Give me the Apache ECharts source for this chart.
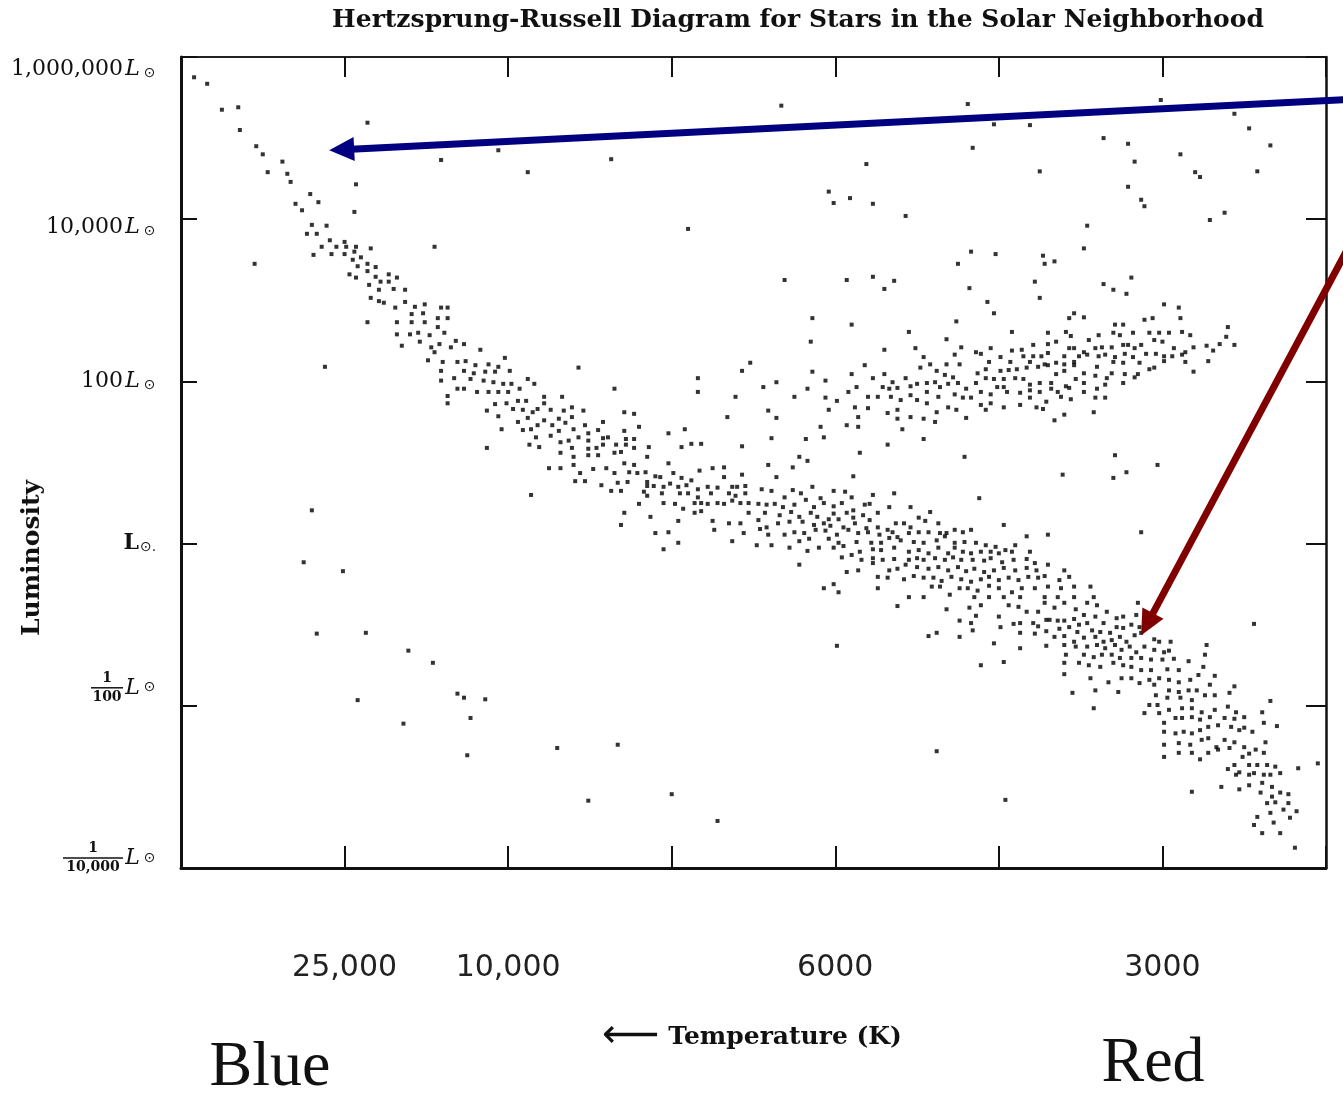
<!DOCTYPE html>
<html><head><meta charset="utf-8">
<script src="https://cdn.jsdelivr.net/npm/echarts@6/dist/echarts.min.js"></script>
<style>html,body{margin:0;padding:0;background:#fff}#c{width:1343px;height:1094px}</style>
</head><body><div id="c"></div>
<script>
// x: position on the temperature scale (tick units), y: log10(L / Lsun)
const tempTickValues = [1, 2, 4, 6];
const tempTickLabels = ['25,000', '10,000', '6000', '3000'];
const lumTickValues = [6, 4, 2, 0, -2, -4];
const lumTickLabels = ['1,000,000', '10,000', '100', '1', '1/100', '1/10,000'];

const upperMainSequence = [[0.08,5.75],[0.16,5.67],[0.25,5.35],[0.35,5.38],[0.36,5.10],[0.46,4.90],[0.50,4.80],[0.62,4.71],[0.53,4.58],[0.65,4.56],[0.67,4.46],[0.79,4.31],[0.84,4.21],[0.70,4.19],[0.74,4.11],[0.80,3.93],[0.89,3.92],[0.77,3.82],[0.83,3.82],[0.91,3.74],[0.86,3.66],[0.95,3.66],[1.00,3.72],[1.01,3.66],[1.07,3.66],[0.81,3.56],[0.92,3.57],[1.00,3.57],[1.06,3.60],[1.10,3.53],[1.16,3.64],[1.05,3.50],[1.08,3.42],[1.14,3.45],[1.19,3.41],[1.03,3.32],[1.07,3.28],[1.14,3.36],[1.19,3.29],[1.22,3.23],[1.27,3.32],[1.32,3.28],[1.27,3.23],[1.15,3.19],[1.21,3.13],[1.30,3.14],[1.37,3.13],[1.16,3.03],[1.21,2.99],[1.24,2.97],[1.31,2.91],[1.37,2.98],[1.43,2.92],[1.49,2.95],[1.41,2.83],[1.48,2.84],[1.59,2.91],[1.63,2.91],[1.63,2.78],[1.57,2.78],[1.49,2.73],[1.41,2.73],[1.32,2.73],[1.14,2.73],[1.57,2.67],[1.40,2.58],[1.45,2.60],[1.52,2.57],[1.61,2.60],[1.35,2.44],[1.46,2.49],[1.53,2.42],[1.58,2.46],[1.65,2.42],[1.68,2.50],[1.73,2.46],[1.55,2.36],[1.51,2.26],[1.60,2.24],[1.69,2.24],[1.74,2.25],[1.80,2.20],[1.59,2.13],[1.73,2.13],[1.79,2.10],[1.59,2.01],[1.67,2.04],[1.77,2.03],[1.69,1.91],[1.73,1.91],[1.81,1.87],[1.63,1.82],[1.63,1.73],[1.32,2.58]];

const middleMainSequence = [[1.83,2.39],[1.98,2.29],[1.88,2.21],[1.94,2.18],[1.86,2.12],[1.92,2.12],[2.01,2.13],[1.85,2.01],[1.91,1.99],[1.97,1.97],[2.02,1.97],[2.12,2.03],[2.16,1.97],[1.88,1.87],[1.94,1.87],[2.00,1.87],[2.07,1.91],[1.92,1.72],[1.99,1.73],[2.06,1.76],[2.11,1.76],[2.22,1.81],[2.22,1.73],[2.33,1.81],[1.87,1.64],[1.94,1.57],[2.03,1.66],[2.09,1.65],[2.15,1.62],[2.18,1.66],[2.26,1.65],[2.34,1.64],[2.39,1.68],[2.46,1.64],[2.43,2.17],[2.65,1.91],[2.06,1.50],[2.12,1.55],[2.18,1.46],[2.22,1.52],[2.27,1.46],[2.31,1.54],[2.35,1.49],[2.39,1.56],[1.96,1.41],[2.09,1.40],[2.14,1.41],[2.17,1.31],[2.26,1.33],[2.31,1.39],[2.40,1.41],[2.47,1.46],[1.87,1.18],[2.13,1.22],[2.19,1.19],[2.32,1.25],[2.37,1.27],[2.43,1.31],[2.49,1.36],[2.49,1.27],[2.55,1.40],[2.58,1.50],[2.58,1.30],[2.61,1.31],[2.71,1.62],[2.77,1.60],[2.80,1.44],[2.71,1.39],[2.72,1.29],[2.77,1.29],[2.39,1.18],[2.49,1.17],[2.54,1.18],[2.58,1.22],[2.66,1.22],[2.72,1.22],[2.77,1.18],[2.86,1.19],[2.32,1.12],[2.40,1.07],[2.49,1.09],[2.55,1.09],[2.65,1.12],[2.69,1.13],[2.85,1.07],[2.98,1.36],[3.08,1.41],[3.06,1.19],[3.12,1.23],[3.18,1.23],[3.16,2.04],[3.16,1.87],[3.39,1.81],[3.48,2.23],[3.43,2.13],[3.56,1.93],[3.64,1.99],[3.59,1.64],[3.64,1.55],[3.34,1.56],[3.61,1.30],[3.43,1.20],[2.40,0.97],[2.32,0.93],[2.25,0.93],[2.44,0.87],[2.52,0.92],[2.60,0.93],[2.65,0.87],[2.71,0.99],[2.74,0.88],[2.79,0.87],[2.77,0.97],[2.84,0.88],[2.90,0.83],[2.41,0.77],[2.47,0.77],[2.57,0.72],[2.67,0.75],[2.73,0.76],[2.85,0.76],[2.93,0.82],[2.98,0.99],[3.01,0.87],[3.06,0.81],[3.12,0.78],[3.17,0.90],[3.25,0.93],[3.32,0.94],[3.32,0.82],[3.43,0.85],[3.59,0.97],[3.64,0.82],[2.85,0.71],[2.89,0.71],[2.95,0.70],[2.99,0.74],[3.04,0.70],[3.09,0.72],[3.16,0.67],[3.22,0.70],[3.28,0.69],[3.37,0.70],[3.40,0.70],[3.45,0.71],[3.55,0.67],[3.61,0.65],[2.63,0.65],[2.69,0.65],[2.83,0.64],[2.94,0.62],[3.05,0.62],[3.10,0.62],[3.16,0.57],[3.24,0.62],[3.35,0.62],[3.39,0.59],[3.45,0.62],[2.14,0.60],[2.85,0.59],[2.95,0.50],[3.02,0.49],[3.07,0.43],[3.14,0.50],[3.18,0.50],[3.22,0.49],[3.28,0.50],[3.32,0.49],[3.37,0.53],[3.42,0.50],[3.47,0.50],[3.53,0.49],[3.58,0.48],[3.63,0.49],[3.66,0.35],[2.80,0.49],[2.71,0.38],[2.69,0.23],[2.87,0.33],[2.90,0.13],[2.98,0.14],[3.04,0.28],[3.04,0.01],[2.95,-0.07],[3.14,0.38],[3.18,0.40],[3.25,0.28],[3.26,0.17],[3.35,0.25],[3.37,0.03],[3.42,0.25],[3.44,0.13],[3.47,0.38],[3.53,0.29],[3.54,0.18],[3.58,0.20],[3.59,0.11],[3.57,0.38],[3.52,-0.02],[3.61,-0.02],[3.65,0.25]];

const centralMainSequence = [[3.69,0.57],[3.74,0.66],[3.79,0.62],[3.86,0.70],[3.91,0.56],[3.99,0.65],[4.06,0.64],[4.10,0.57],[4.23,0.60],[4.36,0.62],[4.46,0.45],[4.58,0.39],[3.68,0.45],[3.75,0.48],[3.82,0.54],[3.87,0.45],[3.93,0.50],[3.99,0.46],[4.04,0.50],[4.07,0.38],[4.11,0.41],[4.18,0.48],[4.21,0.49],[4.26,0.38],[4.33,0.45],[3.73,0.39],[3.78,0.33],[3.85,0.38],[3.89,0.33],[3.96,0.30],[3.99,0.37],[4.02,0.30],[4.11,0.32],[4.17,0.35],[4.21,0.29],[3.72,0.27],[3.80,0.27],[3.87,0.23],[3.93,0.25],[3.97,0.22],[4.05,0.20],[4.12,0.25],[4.19,0.19],[4.26,0.20],[4.32,0.17],[4.37,0.25],[4.42,0.25],[4.46,0.20],[4.51,0.32],[4.55,0.28],[4.63,0.25],[3.69,0.11],[3.75,0.14],[3.81,0.13],[3.88,0.17],[3.94,0.16],[4.01,0.11],[4.08,0.17],[4.14,0.13],[4.20,0.14],[4.27,0.11],[4.35,0.14],[4.38,0.08],[4.45,0.13],[4.51,0.14],[4.57,0.14],[4.64,0.13],[4.68,0.13],[4.73,0.17],[4.78,0.14],[4.83,0.17],[3.78,0.03],[3.84,0.06],[3.96,0.06],[4.02,0.01],[4.13,0.02],[4.22,0.01],[4.28,0.01],[4.33,0.07],[4.40,0.04],[4.48,0.02],[4.54,0.01],[4.62,0.04],[4.67,0.09],[4.73,0.01],[4.79,0.02],[4.86,0.01],[4.92,-0.02],[4.98,-0.04],[5.04,-0.08],[5.10,-0.02],[3.72,-0.05],[3.83,-0.09],[3.90,-0.05],[3.99,-0.05],[4.05,-0.03],[4.15,-0.10],[4.23,-0.07],[4.28,-0.08],[4.36,-0.05],[4.45,-0.10],[4.51,-0.08],[4.57,-0.12],[4.63,-0.05],[4.69,-0.12],[4.73,-0.05],[4.78,-0.10],[4.83,-0.12],[4.89,-0.10],[4.95,-0.10],[5.00,-0.12],[5.08,-0.10],[5.19,-0.10],[4.04,-0.17],[4.10,-0.14],[4.16,-0.20],[4.23,-0.18],[4.29,-0.20],[4.36,-0.19],[4.45,-0.20],[4.50,-0.18],[4.54,-0.20],[4.61,-0.18],[4.67,-0.20],[4.72,-0.17],[4.77,-0.20],[4.84,-0.20],[4.91,-0.21],[4.95,-0.18],[5.02,-0.23],[5.09,-0.20],[5.17,-0.19],[5.22,-0.24],[3.78,-0.26],[4.07,-0.35],[4.14,-0.33],[4.23,-0.24],[4.33,-0.33],[4.38,-0.31],[4.43,-0.26],[4.50,-0.29],[4.57,-0.31],[4.63,-0.29],[4.69,-0.33],[4.75,-0.29],[4.80,-0.34],[4.85,-0.31],[4.91,-0.35],[4.97,-0.33],[5.03,-0.30],[5.10,-0.33],[5.17,-0.30],[5.23,-0.33],[5.30,-0.26],[5.40,-0.33],[4.26,-0.41],[4.32,-0.42],[4.42,-0.44],[4.48,-0.40],[4.54,-0.42],[4.60,-0.42],[4.65,-0.46],[4.71,-0.41],[4.77,-0.44],[4.83,-0.47],[4.89,-0.44],[4.94,-0.41],[5.00,-0.45],[5.06,-0.42],[5.12,-0.45],[5.18,-0.41],[5.24,-0.42],[5.28,-0.40],[5.37,-0.45],[5.43,-0.41],[3.93,-0.55],[3.99,-0.50],[4.02,-0.60],[4.26,-0.55],[4.59,-0.53],[4.64,-0.53],[4.76,-0.55],[4.81,-0.55],[4.87,-0.58],[4.94,-0.52],[5.00,-0.55],[5.08,-0.60],[5.14,-0.55],[5.22,-0.55],[5.30,-0.53],[5.38,-0.55],[5.46,-0.53],[4.45,-0.66],[4.54,-0.66],[4.70,-0.63],[4.85,-0.66],[4.94,-0.66],[5.03,-0.66],[5.13,-0.66],[5.28,-0.66],[5.36,-0.66],[5.46,-0.66],[5.56,-0.53],[5.58,-0.66],[5.87,0.14],[4.88,0.56],[5.03,0.23],[5.30,0.11],[5.17,0.09]];

const lowerMainSequence = [[4.38,-0.77],[4.68,-0.81],[4.82,-0.79],[4.86,-0.89],[4.89,-0.76],[5.00,-0.90],[5.06,-0.76],[5.12,-0.78],[5.17,-0.84],[5.24,-0.84],[5.28,-0.73],[5.34,-0.79],[5.40,-0.73],[5.47,-0.81],[4.76,-0.95],[4.83,-0.98],[4.84,-1.07],[5.01,-1.03],[5.09,-0.99],[5.13,-0.98],[5.21,-0.98],[5.24,-1.02],[5.29,-0.94],[5.31,-0.94],[5.36,-0.95],[5.40,-0.95],[5.46,-0.93],[5.49,-1.00],[4.57,-1.14],[4.62,-1.10],[4.76,-1.15],[4.97,-1.23],[5.13,-1.10],[5.22,-1.11],[5.29,-1.08],[5.34,-1.15],[5.37,-1.05],[5.40,-1.14],[5.43,-1.03],[5.48,-1.09],[5.13,-1.29],[5.29,-1.26],[5.40,-1.25],[5.46,-1.21],[5.47,-1.27],[4.89,-1.50],[5.03,-1.46],[5.40,-1.47],[5.49,-1.47],[5.41,-1.37],[5.40,-1.61],[5.45,-1.84],[5.54,-0.73],[5.60,-0.76],[5.66,-0.84],[5.52,-0.88],[5.59,-0.90],[5.64,-0.98],[5.72,-0.92],[5.76,-0.90],[5.84,-0.88],[5.85,-0.73],[5.54,-0.98],[5.57,-1.07],[5.62,-1.09],[5.68,-1.10],[5.72,-1.03],[5.76,-1.04],[5.81,-1.00],[5.86,-1.03],[5.52,-1.16],[5.59,-1.15],[5.64,-1.21],[5.69,-1.19],[5.74,-1.15],[5.78,-1.21],[5.83,-1.13],[5.87,-1.10],[5.95,-1.18],[5.98,-1.21],[6.05,-1.21],[5.54,-1.27],[5.60,-1.25],[5.65,-1.29],[5.71,-1.25],[5.75,-1.31],[5.80,-1.27],[5.84,-1.34],[5.89,-1.27],[5.95,-1.31],[6.01,-1.34],[6.04,-1.32],[6.27,-1.25],[5.52,-1.37],[5.58,-1.40],[5.63,-1.37],[5.69,-1.37],[5.74,-1.41],[5.81,-1.41],[5.87,-1.41],[5.93,-1.43],[6.00,-1.43],[6.07,-1.42],[6.16,-1.45],[6.26,-1.37],[5.55,-1.50],[5.62,-1.52],[5.70,-1.47],[5.76,-1.50],[5.81,-1.52],[5.87,-1.56],[5.93,-1.56],[6.03,-1.55],[6.10,-1.56],[6.25,-1.52],[5.56,-1.66],[5.67,-1.71],[5.75,-1.66],[5.81,-1.66],[5.86,-1.72],[5.92,-1.68],[5.98,-1.66],[6.04,-1.68],[6.10,-1.71],[6.17,-1.68],[6.22,-1.62],[6.32,-1.63],[5.59,-1.81],[5.73,-1.83],[5.95,-1.74],[6.04,-1.81],[6.10,-1.83],[6.16,-1.81],[6.21,-1.81],[6.29,-1.74],[6.44,-1.76],[5.96,-1.87],[6.03,-1.90],[6.11,-1.90],[6.18,-1.93],[6.26,-1.87],[6.32,-1.87],[6.41,-1.84],[5.58,-2.03],[5.89,-2.09],[5.92,-1.99],[5.97,-1.99],[6.04,-2.05],[6.12,-2.03],[6.18,-2.03],[6.24,-2.08],[6.32,-2.05],[6.40,-2.01],[6.45,-2.08],[5.98,-2.09],[6.01,-2.21],[6.08,-2.15],[6.12,-2.15],[6.18,-2.14],[6.23,-2.17],[6.29,-2.14],[6.38,-2.15],[6.44,-2.16],[6.50,-2.14],[6.61,-2.08],[6.66,-1.94],[6.01,-2.32],[6.08,-2.34],[6.13,-2.32],[6.18,-2.34],[6.23,-2.30],[6.28,-2.26],[6.34,-2.24],[6.42,-2.26],[6.47,-2.30],[6.50,-2.27],[6.55,-2.32],[6.62,-2.21],[6.70,-2.25],[6.01,-2.48],[6.10,-2.46],[6.17,-2.48],[6.24,-2.42],[6.28,-2.40],[6.33,-2.51],[6.38,-2.42],[6.44,-2.45],[6.50,-2.51],[6.57,-2.54],[6.63,-2.45],[6.01,-2.63],[6.10,-2.58],[6.18,-2.58],[6.23,-2.66],[6.28,-2.58],[6.34,-2.54],[6.41,-2.52],[6.49,-2.63],[6.53,-2.59],[6.62,-2.58],[6.44,-2.73],[6.47,-2.82],[6.53,-2.73],[6.58,-2.73],[6.64,-2.73],[6.69,-2.75],[6.40,-2.78],[6.45,-2.85],[6.53,-2.85],[6.56,-2.83],[6.62,-2.85],[6.66,-2.85],[6.72,-2.83],[6.83,-2.77],[6.95,-2.71],[6.18,-3.06],[6.36,-3.00],[6.47,-3.03],[6.53,-2.98],[6.61,-2.95],[6.67,-3.00],[6.60,-3.07],[6.67,-3.12],[6.72,-3.07],[6.77,-3.09],[6.64,-3.20],[6.69,-3.19],[6.74,-3.28],[6.77,-3.20],[6.82,-3.30],[6.66,-3.32],[6.78,-3.38],[6.58,-3.37],[6.56,-3.47],[6.68,-3.44],[6.61,-3.57],[6.72,-3.57],[6.81,-3.75],[6.56,-0.99]];

const giantBranch = [[4.45,2.61],[3.85,2.49],[4.68,2.52],[5.08,2.61],[5.30,2.60],[5.41,2.61],[5.44,2.56],[4.30,2.39],[4.49,2.41],[4.77,2.42],[4.95,2.41],[4.86,2.36],[4.89,2.34],[5.08,2.38],[5.14,2.39],[5.21,2.45],[5.30,2.46],[5.35,2.49],[5.43,2.41],[5.46,2.41],[4.54,2.30],[4.73,2.33],[5.01,2.30],[5.15,2.31],[5.21,2.31],[5.26,2.31],[5.30,2.35],[5.40,2.31],[5.49,2.31],[4.18,2.20],[4.58,2.21],[4.68,2.21],[4.76,2.21],[4.94,2.24],[5.07,2.24],[5.19,2.24],[5.28,2.21],[5.35,2.23],[5.40,2.21],[5.46,2.24],[3.86,2.12],[4.10,2.09],[4.30,2.09],[4.52,2.17],[4.62,2.13],[4.67,2.08],[4.72,2.05],[4.87,2.10],[4.92,2.15],[5.01,2.13],[5.06,2.14],[5.11,2.15],[5.17,2.17],[5.24,2.18],[5.30,2.20],[5.35,2.09],[5.40,2.13],[5.46,2.20],[3.94,2.01],[4.23,2.04],[4.35,1.99],[4.43,2.04],[4.50,1.97],[4.56,1.98],[4.61,1.99],[4.69,1.97],[4.75,1.98],[4.86,1.98],[4.92,2.04],[4.97,2.03],[5.03,2.03],[5.10,2.04],[5.15,2.03],[5.19,1.96],[5.25,1.98],[5.32,1.98],[5.41,1.94],[5.47,2.03],[3.83,1.91],[4.13,1.93],[4.29,1.93],[4.33,1.91],[4.38,1.92],[4.46,1.94],[4.56,1.87],[4.64,1.93],[4.73,1.84],[4.80,1.91],[4.89,1.87],[4.95,1.84],[4.99,1.93],[5.03,1.93],[5.05,1.87],[5.13,1.86],[5.19,1.89],[5.25,1.87],[5.32,1.91],[5.36,1.87],[5.43,1.92],[3.75,1.81],[3.94,1.80],[4.01,1.76],[4.08,1.87],[4.20,1.81],[4.26,1.81],[4.34,1.81],[4.40,1.77],[4.46,1.83],[4.50,1.77],[4.56,1.73],[4.63,1.81],[4.69,1.68],[4.74,1.65],[4.78,1.80],[4.83,1.80],[4.89,1.71],[4.92,1.65],[4.95,1.73],[5.03,1.68],[5.13,1.71],[5.19,1.80],[5.23,1.68],[5.27,1.66],[5.29,1.75],[5.38,1.81],[5.44,1.78],[3.96,1.65],[4.12,1.68],[4.20,1.67],[4.32,1.61],[4.38,1.65],[4.46,1.56],[4.38,1.54],[4.54,1.54],[4.61,1.50],[4.62,1.62],[4.80,1.55],[3.91,1.44],[4.07,1.46],[4.14,1.44],[4.14,1.56],[4.41,1.41],[5.34,1.52],[5.40,1.59],[3.93,1.31],[3.82,1.29],[4.54,1.29],[4.32,1.22],[4.15,1.12],[3.78,1.07],[3.83,1.02],[3.74,0.94],[4.79,1.07],[4.11,0.83],[5.39,0.85],[5.55,2.51],[5.61,2.57],[5.70,2.60],[5.74,2.57],[5.82,2.60],[5.92,2.60],[5.98,2.60],[6.04,2.60],[6.12,2.61],[6.17,2.57],[6.39,2.55],[5.52,2.36],[5.59,2.41],[5.63,2.42],[5.69,2.42],[5.76,2.45],[5.79,2.45],[5.83,2.41],[5.87,2.45],[5.95,2.51],[6.00,2.49],[6.07,2.41],[6.14,2.36],[6.19,2.42],[6.27,2.44],[6.31,2.38],[6.35,2.46],[6.44,2.45],[5.54,2.33],[5.61,2.31],[5.65,2.33],[5.71,2.30],[5.77,2.34],[5.82,2.30],[5.90,2.34],[5.96,2.34],[6.01,2.31],[6.06,2.31],[6.12,2.33],[5.60,2.18],[5.70,2.24],[5.76,2.23],[5.86,2.23],[5.92,2.15],[5.95,2.17],[6.01,2.25],[6.14,2.24],[6.28,2.25],[6.19,2.12],[5.52,2.10],[5.59,2.07],[5.66,2.04],[5.69,2.10],[5.77,2.09],[5.83,2.05],[5.85,2.09],[5.52,1.98],[5.60,1.91],[5.65,1.96],[5.76,1.98],[5.52,1.87],[5.59,1.80],[5.65,1.80],[5.58,1.62],[5.71,1.09],[5.78,0.88],[5.70,0.81],[5.97,0.97],[3.86,2.78],[4.10,2.70],[5.25,3.03],[4.93,2.98],[4.97,2.84],[4.74,2.74],[5.43,2.78],[5.46,2.84],[5.81,3.28],[5.64,3.20],[5.70,3.13],[5.78,3.08],[6.01,2.95],[6.10,2.91],[5.52,2.79],[5.89,2.76],[6.11,2.78],[5.71,2.70],[5.76,2.70],[6.40,2.67],[5.94,2.78]];

const brightStars = [[1.14,5.19],[1.59,4.73],[1.07,4.43],[1.06,4.09],[1.55,3.66],[0.45,3.45],[1.94,4.85],[2.12,4.58],[2.63,4.74],[3.10,3.88],[3.67,5.40],[4.81,5.42],[4.97,5.17],[5.19,5.16],[4.84,4.88],[4.19,4.68],[5.25,4.59],[3.96,4.34],[3.99,4.20],[4.09,4.26],[4.23,4.19],[4.43,4.04],[4.83,3.60],[4.98,3.57],[4.75,3.45],[5.27,3.55],[5.28,3.45],[5.34,3.48],[3.69,3.25],[4.07,3.25],[4.23,3.29],[4.36,3.24],[4.30,3.14],[4.82,3.15],[5.22,3.23],[5.99,5.47],[6.44,5.30],[6.53,5.12],[6.66,4.91],[5.64,5.00],[5.79,4.93],[6.11,4.80],[5.83,4.71],[6.20,4.58],[6.23,4.52],[6.58,4.59],[5.79,4.40],[5.87,4.24],[5.89,4.16],[6.29,3.99],[6.38,4.08],[5.54,3.92],[5.52,3.64],[0.88,2.18]];

const faintStars = [[0.80,0.41],[0.75,-0.23],[0.99,-0.34],[0.83,-1.11],[1.13,-1.10],[1.39,-1.32],[1.54,-1.47],[1.08,-1.93],[1.69,-1.85],[1.73,-1.90],[1.86,-1.92],[1.77,-2.15],[1.36,-2.22],[1.75,-2.61],[2.30,-2.52],[2.67,-2.48],[2.49,-3.17],[4.01,-1.26],[4.62,-2.56],[5.04,-3.16],[3.00,-3.09],[3.28,-3.42]];

// annotation arrows (data coordinates): start -> tip
const blueArrow = {from: [7.16, 5.48], to: [0.906, 4.85]};
const redArrow = {from: [7.16, 3.74], to: [5.87, -1.13]};

const chart = echarts.init(document.getElementById('c'), null, {renderer: 'canvas'});

function tempLabel(v) {
  const i = tempTickValues.indexOf(v);
  return i >= 0 ? tempTickLabels[i] : '';
}
const shiftTop = {6: '{g24| }\n', 4: '{g16| }\n'};
const shiftBottom = {'-2': '\n{g36| }', '-4': '\n{g20| }'};
function lumLabel(v) {
  const i = lumTickValues.indexOf(v);
  if (i < 0) return '';
  const s = lumTickLabels[i];
  let body;
  if (s === '1') {
    body = '{Lb|L}{sunb|⊙.}';
  } else if (s.indexOf('/') >= 0) {
    const parts = s.split('/');
    const w = parts[1].length > 3 ? 'w' : 'n';
    body = '{fn' + w + '|' + parts[0] + '}{sp| }\n{bar' + w + '| }{Lf|L}{sunf|⊙}\n{fd' + w + '|' + parts[1] + '}{sp| }';
  } else {
    body = '{num|' + s + '}{L|L}{sun|⊙}';
  }
  return (shiftTop[v] || '') + body + (shiftBottom[String(v)] || '');
}

const ser = 'DejaVu Serif';
const dotStyle = {color: '#000'};
function scatter(name, data) {
  return {name: name, type: 'scatter', data: data, symbol: 'rect', symbolSize: 4,
    itemStyle: dotStyle, silent: true, xAxisIndex: 0, yAxisIndex: 0};
}

chart.setOption({
  animation: false,
  backgroundColor: '#fff',
  grid: {left: 181, right: 17, top: 57, bottom: 226, containLabel: false},
  xAxis: [
    {type: 'value', position: 'bottom', min: 0, max: 7, interval: 1,
      axisLine: {show: true, onZero: false, lineStyle: {color: '#111', width: 3}},
      axisTick: {show: true, inside: true, length: 22, lineStyle: {color: '#111', width: 2}},
      axisLabel: {show: true, margin: 85, formatter: tempLabel, fontFamily: 'DejaVu Sans', fontSize: 30, color: '#222'},
      splitLine: {show: false}},
    {type: 'value', position: 'top', min: 0, max: 7, interval: 1,
      axisLine: {show: true, onZero: false, lineStyle: {color: '#222', width: 2}},
      axisTick: {show: true, inside: true, length: 20, lineStyle: {color: '#111', width: 2}},
      axisLabel: {show: false}, splitLine: {show: false}}
  ],
  yAxis: [
    {type: 'value', position: 'left', min: -4, max: 6, interval: 2,
      axisLine: {show: true, onZero: false, lineStyle: {color: '#111', width: 3}},
      axisTick: {show: true, inside: true, length: 16, lineStyle: {color: '#111', width: 2}},
      axisLabel: {show: true, margin: 24, formatter: lumLabel, color: '#111',
        rich: {
          num: {fontFamily: ser, fontSize: 22, color: '#111'},
          L: {fontFamily: ser, fontStyle: 'italic', fontSize: 22, color: '#111', width: 19, align: 'right'},
          sun: {fontFamily: 'DejaVu Sans', fontSize: 14, color: '#111', width: 15, align: 'center', verticalAlign: 'bottom'},
          Lb: {fontFamily: ser, fontWeight: 'bold', fontSize: 22, color: '#111'},
          sunb: {fontFamily: 'DejaVu Sans', fontSize: 14, color: '#111', verticalAlign: 'bottom', width: 18, align: 'left'},
          fnn: {fontFamily: ser, fontWeight: 'bold', fontSize: 14, width: 32, align: 'center', lineHeight: 15, color: '#111'},
          fdn: {fontFamily: ser, fontWeight: 'bold', fontSize: 14, width: 32, align: 'center', lineHeight: 15, color: '#111'},
          fnw: {fontFamily: ser, fontWeight: 'bold', fontSize: 14, width: 60, align: 'center', lineHeight: 15, color: '#111'},
          fdw: {fontFamily: ser, fontWeight: 'bold', fontSize: 14, width: 60, align: 'center', lineHeight: 15, color: '#111'},
          barn: {width: 32, height: 1.5, backgroundColor: '#111', verticalAlign: 'middle'},
          barw: {width: 60, height: 1.5, backgroundColor: '#111', verticalAlign: 'middle'},
          Lf: {fontFamily: ser, fontStyle: 'italic', fontSize: 22, color: '#111', width: 19, align: 'right', lineHeight: 4, verticalAlign: 'middle'},
          sunf: {fontFamily: 'DejaVu Sans', fontSize: 14, color: '#111', width: 15, align: 'center', lineHeight: 4, verticalAlign: 'middle'},
          sp: {width: 34, fontSize: 13, lineHeight: 15},
          g24: {lineHeight: 24, fontSize: 8},
          g16: {lineHeight: 16, fontSize: 8},
          g36: {lineHeight: 36, fontSize: 8},
          g20: {lineHeight: 20, fontSize: 8}
        }},
      splitLine: {show: false}},
    {type: 'value', position: 'right', min: -4, max: 6, interval: 2,
      axisLine: {show: true, onZero: false, lineStyle: {color: '#111', width: 2.5}},
      axisTick: {show: true, inside: true, length: 20, lineStyle: {color: '#111', width: 2}},
      axisLabel: {show: false}, splitLine: {show: false}}
  ],
  series: [
    scatter('Upper main sequence', upperMainSequence),
    scatter('Middle main sequence', middleMainSequence),
    scatter('Central main sequence', centralMainSequence),
    scatter('Lower main sequence', lowerMainSequence),
    scatter('Giant branch', giantBranch),
    scatter('Bright stars', brightStars),
    scatter('Faint stars', faintStars)
  ]
});

function arrow(a, color) {
  const p0 = chart.convertToPixel({seriesIndex: 0}, a.from);
  const p1 = chart.convertToPixel({seriesIndex: 0}, a.to);
  const dx = p1[0] - p0[0], dy = p1[1] - p0[1];
  const len = Math.sqrt(dx * dx + dy * dy);
  const ux = dx / len, uy = dy / len;
  const hl = 25, hw = 12;
  const bx = p1[0] - ux * hl, by = p1[1] - uy * hl;
  const nx = -uy, ny = ux;
  return [
    {type: 'line', z: 100, shape: {x1: p0[0], y1: p0[1], x2: bx + ux * 3, y2: by + uy * 3},
      style: {stroke: color, lineWidth: 7}},
    {type: 'polygon', z: 100, shape: {points: [[p1[0], p1[1]], [bx + nx * hw, by + ny * hw], [bx - nx * hw, by - ny * hw]]},
      style: {fill: color}}
  ];
}
function txt(x, y, text, font, extra) {
  const el = {type: 'text', x: x, y: y, z: 50,
    style: {text: text, font: font, fill: '#111', align: 'center', verticalAlign: 'middle',
      textAlign: 'center', textVerticalAlign: 'middle'}};
  return Object.assign(el, extra || {});
}
const tempTitle = txt(752, 1037, '{a|⟵} {t|Temperature (K)}', 'bold 25px "DejaVu Serif"');
tempTitle.style.rich = {
  a: {fontFamily: 'DejaVu Sans', fontSize: 40, fontWeight: 'normal', fill: '#111', color: '#111'},
  t: {fontFamily: ser, fontSize: 25, fontWeight: 'bold', fill: '#111', color: '#111'}
};

chart.setOption({
  graphic: [
    txt(798, 20, 'Hertzsprung-Russell Diagram for Stars in the Solar Neighborhood', 'bold 25px "DejaVu Serif"'),
    txt(32, 558, 'Luminosity', 'bold 25px "DejaVu Serif"', {rotation: Math.PI / 2}),
    tempTitle,
    txt(270, 1068, 'Blue', '64px "Liberation Serif"'),
    txt(1153, 1064, 'Red', '64px "Liberation Serif"')
  ].concat(arrow(blueArrow, '#000080'), arrow(redArrow, '#800000'))
});
</script>
</body></html>
